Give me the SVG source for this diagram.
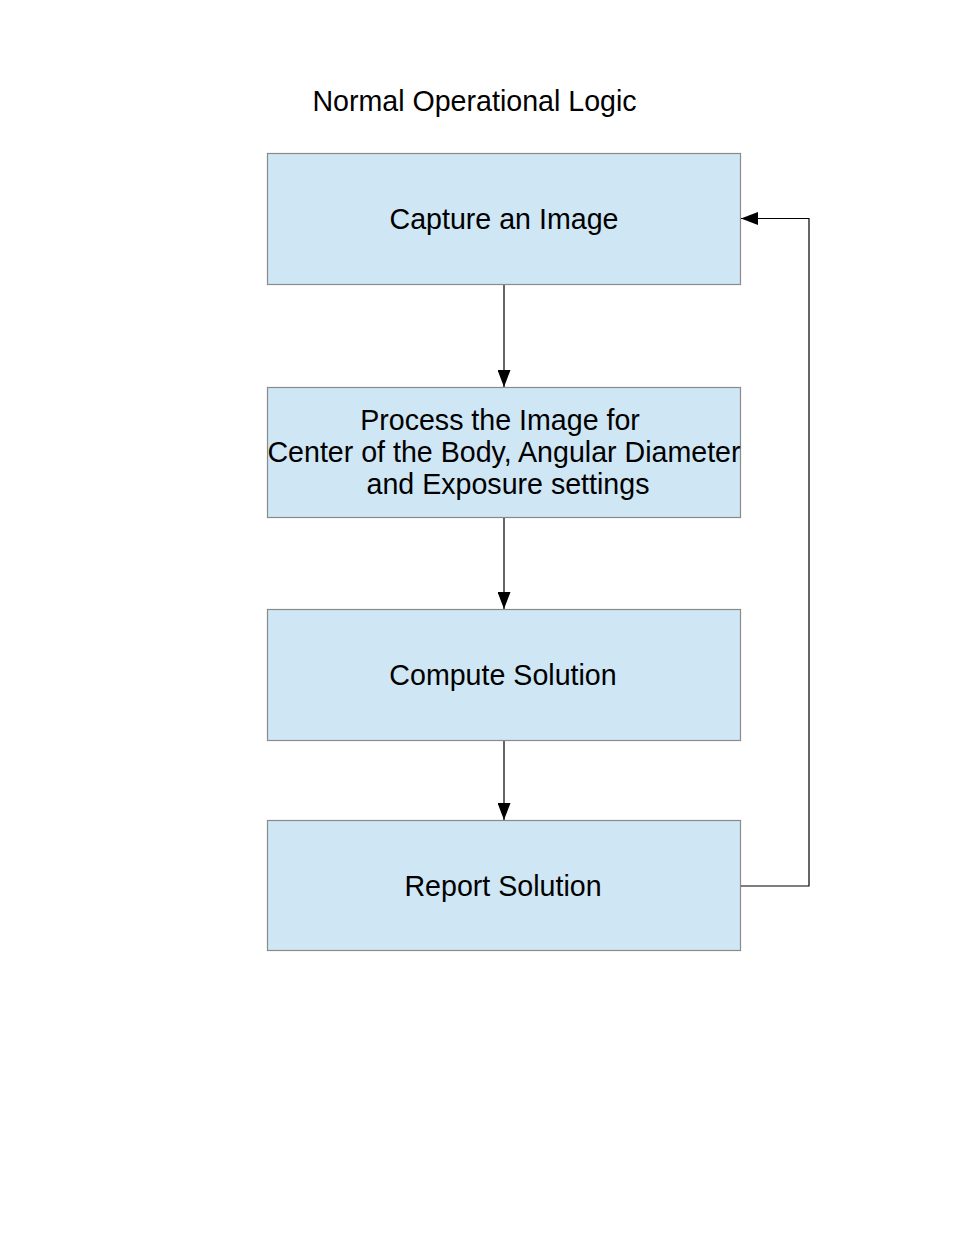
<svg xmlns="http://www.w3.org/2000/svg" width="969" height="1254" viewBox="0 0 969 1254">
<style>
.box{fill:#cfe6f4;stroke:#8a8a8a;stroke-width:1.2}
.t{font-family:"Liberation Sans",Arial,sans-serif;font-size:28.6px;fill:#000;text-anchor:middle}
.c{fill:none;stroke:#000;stroke-width:1.2}
</style>
<defs>
<marker id="ah" viewBox="0 0 17 13" refX="17" refY="6.5" markerWidth="17" markerHeight="13" markerUnits="userSpaceOnUse" orient="auto">
<path d="M0,0 L17,6.5 L0,13 Z" fill="#000"/>
</marker>
</defs>
<rect width="969" height="1254" fill="#fff"/>
<text class="t" x="474.5" y="111">Normal Operational Logic</text>
<g id="n1"><rect class="box" x="267.5" y="153.5" width="473" height="131"/><text class="t" x="504" y="229">Capture an Image</text></g>
<g id="n2"><rect class="box" x="267.5" y="387.5" width="473" height="130"/><text class="t" x="500" y="430">Process the Image for</text><text class="t" x="504" y="462">Center of the Body, Angular Diameter</text><text class="t" x="508" y="494">and Exposure settings</text></g>
<g id="n3"><rect class="box" x="267.5" y="609.5" width="473" height="131"/><text class="t" x="503" y="685">Compute Solution</text></g>
<g id="n4"><rect class="box" x="267.5" y="820.5" width="473" height="130"/><text class="t" x="503" y="896">Report Solution</text></g>
<g id="connectors">
<path class="c" d="M504,285 V387" marker-end="url(#ah)"/>
<path class="c" d="M504,518 V609" marker-end="url(#ah)"/>
<path class="c" d="M504,741 V820" marker-end="url(#ah)"/>
<path class="c" d="M741,886 H809 V218.5 H741" marker-end="url(#ah)"/>
</g>
</svg>
